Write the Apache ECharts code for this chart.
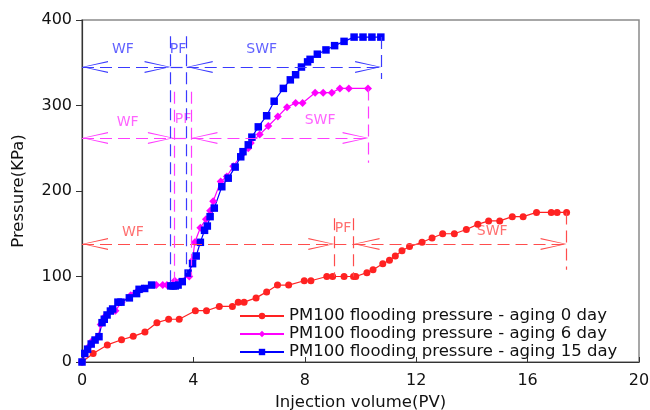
<!DOCTYPE html>
<html>
<head>
<meta charset="utf-8">
<script src="https://cdn.jsdelivr.net/npm/echarts@6/dist/echarts.min.js"></script>
<style>html,body{margin:0;padding:0;background:#fff}#c{width:650px;height:410px}</style>
</head>
<body>
<div id="c"></div>
<script>
// ---- data ----
const seriesNames = ['PM100 flooding pressure - aging 0 day', 'PM100 flooding pressure - aging 6 day', 'PM100 flooding pressure - aging 15 day'];
const xTicks = [0, 4, 8, 12, 16, 20];
const yTicks = [0, 100, 200, 300, 400];

const day0 = [[0,0],[0.4,10],[0.91,20],[1.42,26],[1.84,30],[2.26,35],[2.69,46],[3.11,50],[3.49,50],[4.07,60],[4.47,60],[4.93,65],[5.4,65],[5.61,70],[5.82,70],[6.25,75],[6.63,82],[7.02,90],[7.42,90],[7.98,95],[8.22,95],[8.79,100],[9.0,100],[9.41,100],[9.75,100],[9.83,100],[10.23,104.5],[10.45,108],[10.8,115],[11.04,119],[11.25,124],[11.49,130],[11.76,135],[12.21,140],[12.57,145],[12.95,150],[13.37,150],[13.8,155],[14.21,161],[14.6,165],[15.0,165],[15.45,170],[15.84,170],[16.32,175],[16.85,175],[17.06,175],[17.4,175]];
const day6 = [[0,0],[0.25,18],[0.37,25],[0.59,30],[0.67,44],[0.85,54],[1.2,60],[1.42,70],[1.75,78],[1.93,81],[2.2,86],[2.67,90],[2.9,90],[3.05,90],[3.33,95],[3.85,100],[3.97,119],[4.05,140],[4.25,157],[4.45,167],[4.6,177],[4.71,188],[4.98,211],[5.2,217],[5.43,229],[5.75,243],[5.97,250],[6.06,256],[6.38,266],[6.69,276],[7.03,287],[7.36,298],[7.67,303],[7.92,303],[8.37,315],[8.66,315],[8.97,315],[9.26,320],[9.58,320],[10.27,320]];
const day15 = [[0,0],[0.1,10],[0.2,15],[0.33,21],[0.47,25.7],[0.61,29.6],[0.72,46],[0.8,50],[0.9,55],[1.02,59.6],[1.1,62],[1.29,70],[1.4,70],[1.7,75],[1.96,80],[2.05,85],[2.25,86],[2.5,90],[3.19,89],[3.27,89],[3.35,89],[3.45,90],[3.6,94],[3.81,104],[3.97,115],[4.1,124],[4.25,140],[4.4,154],[4.5,159],[4.6,170],[4.75,180],[5.02,205],[5.25,215],[5.5,228],[5.7,240],[5.78,246],[5.97,254],[6.1,263],[6.33,275],[6.63,288],[6.9,305],[7.23,320],[7.48,330],[7.67,336],[7.88,345],[8.1,351],[8.19,354],[8.45,360],[8.76,365],[9.07,370],[9.41,375],[9.77,380],[10.09,380],[10.41,380],[10.73,380]];

// phase annotations (WF / PF / SWF)
const phaseNames = ['WF', 'PF', 'SWF'];
const arrowLevel0 = 138, arrowLevel6 = 262, arrowLevel15 = 345;
const phaseBounds0 = [0, 9.06, 9.75, 17.4];
const phaseBounds6 = [0, 3.30, 3.93, 10.29];
const phaseBounds15 = [0, 3.18, 3.76, 10.74];
// vertical marker lines: [x, top, bottom]
const vLines0 = [[9.06, 168, 100], [9.75, 168, 100], [17.4, 175, 108]];
const vLines6 = [[3.30, 316, 94], [3.93, 316, 100], [10.29, 320, 233]];
const vLines15 = [[3.18, 381, 90], [3.76, 381, 104], [10.74, 380, 331]];
// label anchors for WF, PF, SWF
const labelAt0 = [[1.83, 152], [9.37, 156], [14.73, 153]];
const labelAt6 = [[1.64, 280], [3.63, 284], [8.55, 283]];
const labelAt15 = [[1.47, 366], [3.45, 366], [6.45, 366]];

// ---- styles ----
const FONT = 'DejaVu Sans';
const colors = ['#ff2222', '#ff00ff', '#0000ff'];
const annColors = ['#ff4d4d', '#ff3dff', '#3a3aff'];
const chevron = 'path://M5,-20 L5,-20 Z M5,0 L10,20 L9,20 L5,2 L1,20 L0,20 Z';

function annotData(bounds, y, vlines) {
  const arr = { symbol: chevron };
  const none = { symbol: 'none' };
  const d = [
    [Object.assign({ coord: [bounds[0], y] }, arr), Object.assign({ coord: [bounds[1], y] }, arr)],
    [Object.assign({ coord: [bounds[1], y] }, none), Object.assign({ coord: [bounds[2], y] }, none)],
    [Object.assign({ coord: [bounds[2], y] }, arr), Object.assign({ coord: [bounds[3], y] }, arr)]
  ];
  vlines.forEach(v => {
    d.push([Object.assign({ coord: [v[0], v[1]] }, none), Object.assign({ coord: [v[0], v[2]] }, none)]);
  });
  return d;
}
function annotSeries(i, bounds, y, vlines) {
  return {
    type: 'line', data: [], silent: true, animation: false,
    markLine: {
      silent: true, animation: false,
      symbolSize: [12, 52],
      label: { show: false },
      lineStyle: { color: annColors[i], type: [12, 6], width: 1.2 },
      itemStyle: { color: annColors[i] },
      data: annotData(bounds, y, vlines)
    }
  };
}
function labelSeries(i, anchors) {
  return {
    type: 'scatter', silent: true, animation: false, symbolSize: 0,
    data: anchors.map((p, k) => ({ value: p, name: phaseNames[k] })),
    label: { show: true, position: 'inside', formatter: '{b}', color: annColors[i], fontSize: 14, fontFamily: FONT }
  };
}

const chart = echarts.init(document.getElementById('c'), null, { renderer: 'canvas' });
chart.setOption({
  animation: false,
  textStyle: { fontFamily: FONT },
  grid: { left: 82, right: 11, top: 20, bottom: 48, show: true, borderColor: '#8a8a8a', borderWidth: 1.5,
          containLabel: false, outerBoundsMode: 'none' },
  xAxis: {
    type: 'value', min: xTicks[0], max: xTicks[xTicks.length - 1], interval: 4,
    name: 'Injection volume(PV)', nameLocation: 'middle', nameGap: 32,
    nameTextStyle: { fontSize: 16.5, color: '#111', fontFamily: FONT },
    axisLine: { lineStyle: { color: '#333', width: 1.2 } },
    axisTick: { inside: true, length: 5, lineStyle: { color: '#333' } },
    axisLabel: { fontSize: 16, color: '#111', margin: 11, fontFamily: FONT },
    splitLine: { show: false }
  },
  yAxis: {
    type: 'value', min: yTicks[0], max: yTicks[yTicks.length - 1], interval: 100,
    name: 'Pressure(KPa)', nameLocation: 'middle', nameGap: 55,
    nameTextStyle: { fontSize: 16.5, color: '#111', fontFamily: FONT },
    axisLine: { show: true, lineStyle: { color: '#333', width: 1.2 } },
    axisTick: { show: true, inside: false, length: 6, lineStyle: { color: '#333' } },
    axisLabel: { fontSize: 16, color: '#111', margin: 10, fontFamily: FONT },
    splitLine: { show: false }
  },
  legend: {
    data: seriesNames, orient: 'vertical', left: 234, top: 302,
    itemWidth: 44, itemHeight: 8, itemGap: 0,
    textStyle: { fontSize: 16.5, color: '#111', lineHeight: 18, fontFamily: FONT }
  },
  series: [
    annotSeries(0, phaseBounds0, arrowLevel0, vLines0),
    annotSeries(1, phaseBounds6, arrowLevel6, vLines6),
    annotSeries(2, phaseBounds15, arrowLevel15, vLines15),
    labelSeries(0, labelAt0),
    labelSeries(1, labelAt6),
    labelSeries(2, labelAt15),
    { name: seriesNames[0], type: 'line', data: day0, symbol: 'circle', symbolSize: 7,
      lineStyle: { color: colors[0], width: 1.2 }, itemStyle: { color: colors[0] } },
    { name: seriesNames[1], type: 'line', data: day6, symbol: 'diamond', symbolSize: 8,
      lineStyle: { color: colors[1], width: 1.2 }, itemStyle: { color: colors[1] } },
    { name: seriesNames[2], type: 'line', data: day15, symbol: 'rect', symbolSize: 7.5,
      lineStyle: { color: colors[2], width: 1.2 }, itemStyle: { color: colors[2] } }
  ]
});
</script>
</body>
</html>
